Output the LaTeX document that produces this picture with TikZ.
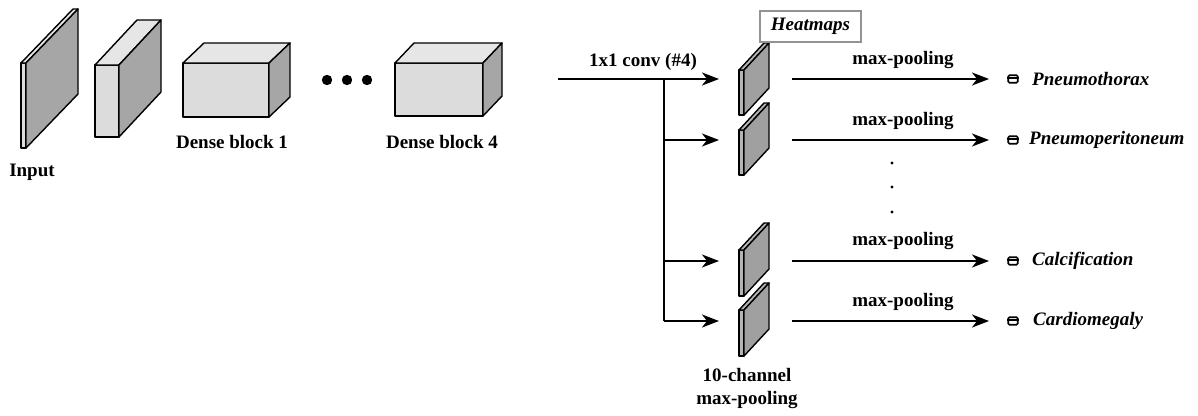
\documentclass[tikz,border=0pt]{standalone}
\usepackage{fontspec}
\setmainfont{Liberation Serif}
\usetikzlibrary{arrows.meta}
\definecolor{frontc}{HTML}{DCDCDC}
\definecolor{topc}{HTML}{E6E6E6}
\definecolor{sidec}{HTML}{A6A6A6}
\definecolor{hmside}{HTML}{A0A0A0}
\definecolor{hmfront}{HTML}{B4B4B4}
\newcommand\mycuboid[9]{%
  \filldraw[line width=1.4pt,line join=round,fill=#7] (#1,#2) rectangle ++(#3,#4);
  \filldraw[line width=1.4pt,line join=round,fill=#8] (#1,#2) -- ++(#5,#6) -- ++(#3,0) -- (#1+#3,#2) -- cycle;
  \filldraw[line width=1.4pt,line join=round,fill=#9] (#1+#3,#2) -- ++(#5,#6) -- ++(0,#4) -- (#1+#3,#2+#4) -- cycle;
}
\begin{document}
\begin{tikzpicture}[x=1pt,y=-1pt,
  lbl/.style={font=\fontsize{19}{23}\selectfont\bfseries, inner sep=0pt},
  ilbl/.style={font=\fontsize{19}{23}\selectfont\bfseries\itshape, inner sep=0pt},
  arr/.style={line width=2pt,-{Stealth[length=17pt,width=13pt,inset=5pt]}},
  ln/.style={line width=2pt},
  icon/.style={draw, line width=1.6pt, rounded corners=1.2pt, minimum width=9.5pt, minimum height=7.5pt, inner sep=0pt}]
\useasboundingbox (0,0) rectangle (1198,415);
% left stack
\mycuboid{21}{63}{5}{85}{52}{-54}{frontc}{topc}{sidec}
\mycuboid{95}{65}{24}{72}{42}{-45}{frontc}{topc}{sidec}
\mycuboid{183}{63}{86}{54}{21}{-20}{frontc}{topc}{sidec}
\mycuboid{395}{63}{88}{53}{19}{-20}{frontc}{topc}{sidec}
\node[lbl] (inp) at (32,172) {Input};
\node[lbl] (db1) at (232,142) {Dense block 1};
\node[lbl] (db4) at (442,142) {Dense block 4};
\foreach \i/\xx in {1/327,2/347,3/367}
  \fill (\xx,80) circle (5.2pt) coordinate (dot\i);
% heatmap slabs
\mycuboid{739}{70}{5}{45}{25}{-27}{hmfront}{hmfront}{hmside}
\mycuboid{739}{130}{5}{45}{25}{-27}{hmfront}{hmfront}{hmside}
\mycuboid{739}{250}{5}{46}{25}{-27}{hmfront}{hmfront}{hmside}
\mycuboid{739}{310}{5}{46}{25}{-27}{hmfront}{hmfront}{hmside}
\node[ilbl, draw=gray!85, line width=1.6pt, minimum width=101pt, minimum height=31pt] (hm) at (810.5,26.5) {Heatmaps};
% conv arrows
\coordinate (c0) at (558,79);
\coordinate (sp) at (664,79);
\coordinate (spb) at (664,321);
\coordinate (b2) at (664,140);
\coordinate (b3) at (664,261);
\coordinate (t1) at (719,79);
\coordinate (t2) at (719,140);
\coordinate (t3) at (719,261);
\coordinate (t4) at (719,321);
\node[lbl] (conv) at (643,62) {1x1 conv (\#4)};
\draw[arr] (c0) -- (t1);
\draw[ln] (sp) -- (spb);
\draw[arr] (b2) -- (t2);
\draw[arr] (b3) -- (t3);
\draw[arr] (spb) -- (t4);
% pooling arrows
\foreach \i/\yy in {1/79,2/140,3/261,4/321}{
  \coordinate (p\i) at (792,\yy);
  \coordinate (q\i) at (989,\yy);
  \draw[arr] (p\i) -- (q\i);
  \node[icon] (ic\i) at (1013,\yy) {};
  \draw[line width=1.2pt] ([yshift=1pt]ic\i.west) -- ([yshift=1pt]ic\i.east);
}
\node[lbl] (mp1) at (903,60) {max-pooling};
\node[lbl] (mp2) at (903,121) {max-pooling};
\node[lbl] (mp3) at (903,241) {max-pooling};
\node[lbl] (mp4) at (903,302) {max-pooling};
\node[ilbl, anchor=west] (n1) at (1032,79) {Pneumothorax};
\node[ilbl, anchor=west] (n2) at (1029,140) {Pneumoperitoneum};
\node[ilbl, anchor=west] (n3) at (1032,261) {Calcification};
\node[ilbl, anchor=west] (n4) at (1033,321) {Cardiomegaly};
\foreach \i/\yy in {1/163,2/187,3/212}
  \fill (892,\yy) circle (1.6pt) coordinate (vd\i);
\node[lbl, align=center] (ch) at (747,388) {10-channel\\max-pooling};
\end{tikzpicture}
\end{document}
